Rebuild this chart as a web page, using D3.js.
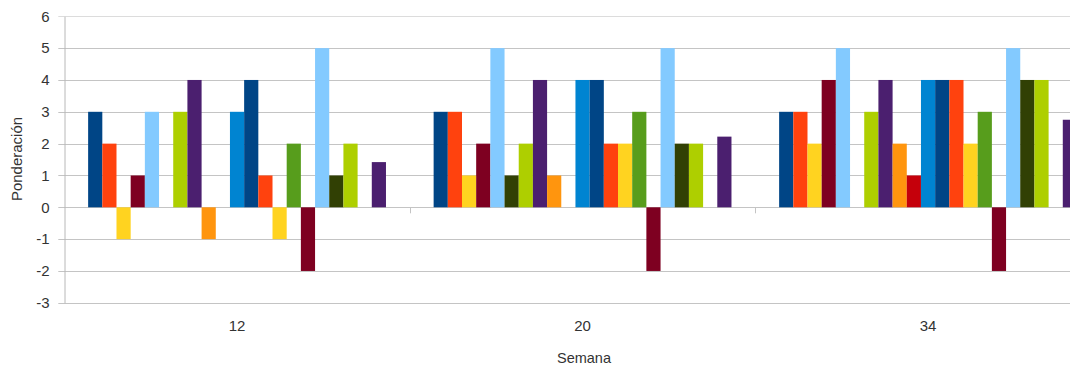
<!DOCTYPE html>
<html>
<head>
<meta charset="utf-8">
<script src="https://cdn.jsdelivr.net/npm/d3@7"></script>
<style>
    body { margin: 0; background: #fff; }
    text { font-family: "Liberation Sans", Arial, sans-serif; fill: #333; }
</style>
</head>
<body>
<div id="chart"></div>
<script>
// semanas on the x axis
const semanas = ["12", "20", "34"];

// one entry per series, values for semana 12, 20, 34
const series = ["S1", "S2", "S3", "S4", "S5", "S6", "S7", "S8", "S9", "S10", "S11",
    "S12", "S13", "S14", "S15", "S16", "S17", "S18", "S19", "S20", "S21"];

const seriesColors = ["#004586", "#ff420e", "#ffd320", "#7e0021", "#83caff", "#314004",
    "#aecf00", "#4b1f6f", "#ff950e", "#c5000b", "#0084d1", "#004586", "#ff420e",
    "#ffd320", "#579d1c", "#7e0021", "#83caff", "#314004", "#aecf00", "#ff950e", "#4b1f6f"];

const values = [
    [3, 3, 3],
    [2, 3, 3],
    [-1, 1, 2],
    [1, 2, 4],
    [3, 5, 5],
    [0, 1, 0],
    [3, 2, 3],
    [4, 4, 4],
    [-1, 1, 2],
    [0, 0, 1],
    [3, 4, 4],
    [4, 4, 4],
    [1, 2, 4],
    [-1, 2, 2],
    [2, 3, 3],
    [-2, -2, -2],
    [5, 5, 5],
    [1, 2, 4],
    [2, 2, 4],
    [0, 0, 0],
    [1.42, 2.22, 2.75]
];

const yTicks = [-3, -2, -1, 0, 1, 2, 3, 4, 5, 6];

const width = 1070, height = 370;
const plot = { l: 64.3, t: 16.3, b: 302.8, catW: 345.5 };

const svg = d3.select("#chart").append("svg")
    .attr("width", width)
    .attr("height", height);

const y = d3.scaleLinear()
    .domain([-3, 6])
    .range([plot.b, plot.t]);

const x0 = d3.scaleBand()
    .domain(semanas)
    .range([plot.l, plot.l + plot.catW * semanas.length])
    .padding(0);

const x1 = d3.scaleBand()
    .domain(d3.range(series.length))
    .range([0, x0.bandwidth()])
    .paddingInner(0)
    .paddingOuter(1.68);

// gridlines
svg.append("g")
    .selectAll("line")
    .data(yTicks)
    .join("line")
    .attr("x1", plot.l - 6)
    .attr("x2", width)
    .attr("y1", d => Math.round(y(d)) + 0.5)
    .attr("y2", d => Math.round(y(d)) + 0.5)
    .attr("stroke", d => d === 6 ? "#dcdcdc" : "#c4c4c4")
    .attr("stroke-width", 1);

// bars
const cat = svg.append("g")
    .selectAll("g")
    .data(semanas)
    .join("g")
    .attr("transform", d => `translate(${x0(d)},0)`);

cat.selectAll("rect")
    .data((d, ci) => values.map((v, si) => ({ si, v: v[ci] })))
    .join("rect")
    .attr("x", d => x1(d.si))
    .attr("width", x1.bandwidth())
    .attr("y", d => y(Math.max(0, d.v)))
    .attr("height", d => Math.abs(y(d.v) - y(0)))
    .attr("fill", d => seriesColors[d.si]);

// y axis
const yAxis = d3.axisLeft(y)
    .tickValues(yTicks)
    .tickFormat(d => String(d))
    .tickSize(0)
    .tickPadding(15);

const yg = svg.append("g")
    .attr("transform", `translate(${Math.round(plot.l) + 0.5},0)`)
    .call(yAxis);

yg.select(".domain").attr("stroke", "#b8b8b8");
yg.selectAll("text")
    .style("font-size", "15px")
    .attr("fill", "#333");

// category separators on the zero line
svg.append("g")
    .selectAll("line")
    .data(semanas.slice(1))
    .join("line")
    .attr("x1", d => Math.round(x0(d)) + 0.5)
    .attr("x2", d => Math.round(x0(d)) + 0.5)
    .attr("y1", y(0))
    .attr("y2", y(0) + 6)
    .attr("stroke", "#c4c4c4");

// x labels
svg.append("g")
    .selectAll("text")
    .data(semanas)
    .join("text")
    .attr("x", d => x0(d) + x0.bandwidth() / 2)
    .attr("y", 331)
    .attr("text-anchor", "middle")
    .style("font-size", "15px")
    .text(d => d);

svg.append("text")
    .attr("x", 584)
    .attr("y", 363)
    .attr("text-anchor", "middle")
    .style("font-size", "14.5px")
    .text("Semana");

svg.append("text")
    .attr("transform", `translate(22, 159) rotate(-90)`)
    .attr("text-anchor", "middle")
    .style("font-size", "15px")
    .text("Ponderación");
</script>
</body>
</html>
